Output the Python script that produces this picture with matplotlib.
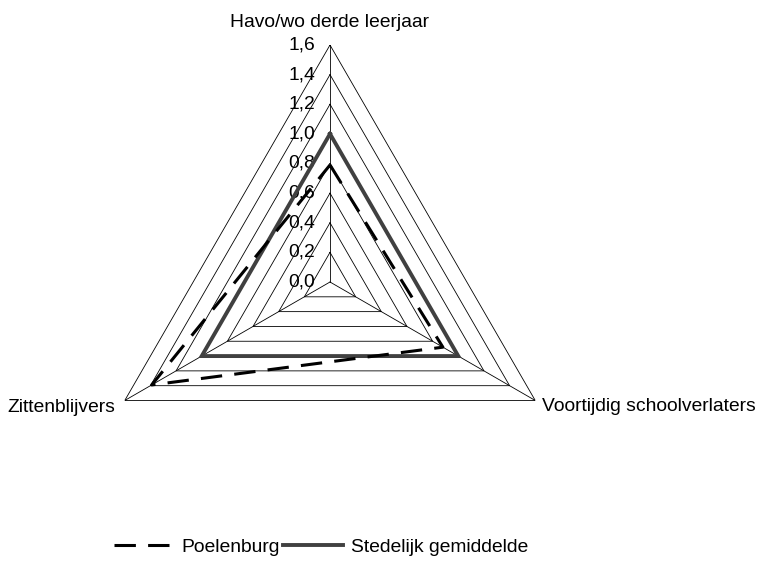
import numpy as np
import matplotlib
matplotlib.use("Agg")
import matplotlib.pyplot as plt

categories = ["Havo/wo derde leerjaar", "Voortijdig schoolverlaters", "Zittenblijvers"]
poelenburg = [0.79, 0.88, 1.39]
stedelijk = [1.0, 1.0, 1.0]
levels = [0.2, 0.4, 0.6, 0.8, 1.0, 1.2, 1.4, 1.6]
tick_values = [0.0, 0.2, 0.4, 0.6, 0.8, 1.0, 1.2, 1.4, 1.6]
tick_labels = ["0,0", "0,2", "0,4", "0,6", "0,8", "1,0", "1,2", "1,4", "1,6"]

plt.rcParams['font.family'] = ['Liberation Sans', 'DejaVu Sans']
FS = 13.9

fig = plt.figure(figsize=(7.61, 5.61), dpi=100)
W, H = 761, 561
cx, cy, R = 330, 282, 237
ax = fig.add_axes([(cx - R) / W, 1 - (cy + R) / H, 2 * R / W, 2 * R / H], projection='polar')
ax.set_theta_offset(np.pi / 2)
ax.set_theta_direction(-1)
ax.set_ylim(0, 1.6)
ax.grid(False)
ax.spines['polar'].set_visible(False)
ax.set_xticks([])
ax.set_yticks([])
ax.patch.set_alpha(0)

n = len(categories)
theta = np.array([2 * np.pi * i / n for i in range(n)])
theta_c = np.append(theta, theta[0])

# triangular grid
for lv in levels:
    ax.plot(theta_c, [lv] * (n + 1), color='black', lw=0.6, zorder=1)
for t in theta:
    ax.plot([t, t], [0, levels[-1]], color='black', lw=0.6, zorder=1)

# series
pv = poelenburg + [poelenburg[0]]
sv = stedelijk + [stedelijk[0]]
ax.plot(theta_c, sv, color='#404040', lw=2.8, zorder=3, label='Stedelijk gemiddelde',
        solid_joinstyle='miter')
ax.plot(theta_c, pv, color='black', lw=2.2, zorder=4, label='Poelenburg',
        dashes=(7, 4))

# tick labels along top spoke
for v, lab in zip(tick_values, tick_labels):
    ax.annotate(lab, xy=(0, v), xytext=(-10.5, 0), textcoords='offset points',
                ha='right', va='center', fontsize=FS, zorder=2)

# category labels
ax.annotate(categories[0], xy=(theta[0], 1.6), xytext=(0, 16.5), textcoords='offset points',
            ha='center', va='center', fontsize=FS)
ax.annotate(categories[1], xy=(theta[1], 1.6), xytext=(5, -4), textcoords='offset points',
            ha='left', va='center', fontsize=FS)
ax.annotate(categories[2], xy=(theta[2], 1.6), xytext=(-6.5, -5), textcoords='offset points',
            ha='right', va='center', fontsize=FS)

handles, labels = ax.get_legend_handles_labels()
order = [1, 0]
fig.legend([handles[i] for i in order], [labels[i] for i in order],
           loc='center', bbox_to_anchor=(321 / W, 1 - 547 / H), ncol=2, frameon=False,
           fontsize=FS, handlelength=3.1, handletextpad=0.4, columnspacing=0.2)

fig.savefig('out.png', dpi=100)
